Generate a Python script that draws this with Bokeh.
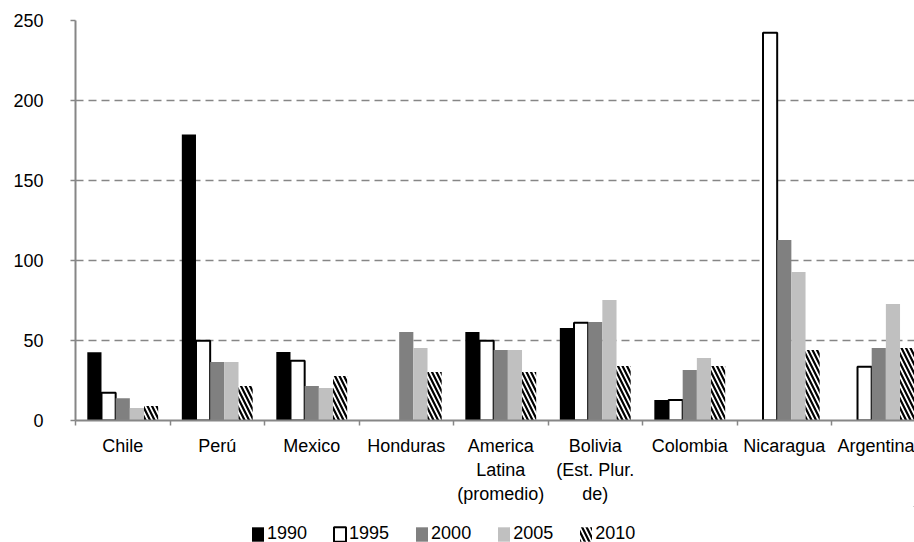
from bokeh.plotting import figure
from bokeh.layouts import column
from bokeh.models import Range1d, FixedTicker, Legend, LegendItem
from bokeh.embed import file_html
from bokeh.resources import INLINE

NaN = float("nan")

countries = ["Chile", "Perú", "Mexico", "Honduras", "America\nLatina\n(promedio)",
             "Bolivia\n(Est. Plur.\nde)", "Colombia", "Nicaragua", "Argentina"]
years = ["1990", "1995", "2000", "2005", "2010"]

v1990 = [42.6, 178.8, 42.8, NaN, 55.3, 57.8, 12.8, NaN, NaN]
v1995 = [17.4, 49.9, 37.4, NaN, 49.9, 61.1, 12.8, 242.4, 33.6]
v2000 = [13.9, 36.6, 21.6, 55.3, 44.0, 61.6, 31.6, 112.8, 45.3]
v2005 = [7.8, 36.6, 20.3, 45.3, 44.0, 75.3, 39.1, 92.8, 72.8]
v2010 = [9.1, 21.6, 27.8, 30.3, 30.3, 34.1, 34.1, 44.0, 45.3]

y_ticks = [0, 50, 100, 150, 200, 250]

series = [v1990, v1995, v2000, v2005, v2010]

FONT = "Liberation Sans"
FS = "18px"
AX = "#868686"

p = figure(width=914, height=506, x_range=Range1d(0, 8.878), y_range=Range1d(0, 250),
           output_backend="svg", toolbar_location=None,
           min_border_left=75, min_border_top=20, min_border_right=0, min_border_bottom=85)
p.outline_line_color = None
p.xgrid.visible = False
p.ygrid.grid_line_color = AX
p.ygrid.grid_line_width = 1.6
p.ygrid.grid_line_dash = "8 5"
p.ygrid.ticker = FixedTicker(ticks=y_ticks)

n = len(countries)
bw = 0.15
offsets = [-0.3, -0.15, 0.0, 0.15, 0.3]
styles = [
    dict(fill_color="black", line_color=None),
    dict(fill_color="white", line_color="black", line_width=2),
    dict(fill_color="#808080", line_color=None),
    dict(fill_color="#c0c0c0", line_color=None),
    dict(fill_color="white", line_color=None, hatch_pattern="left_diagonal_line",
         hatch_color="black", hatch_weight=2.2, hatch_scale=9),
]

for vals, off, st in zip(series, offsets, styles):
    xs = [i + 0.5 + off for i in range(n)]
    p.vbar(x=xs, top=vals, bottom=0, width=bw, **st)

# y axis
yax = p.yaxis[0]
yax.ticker = FixedTicker(ticks=y_ticks)
yax.axis_line_color = AX
yax.axis_line_width = 2
yax.major_tick_line_color = AX
yax.major_tick_line_width = 1.5
yax.major_tick_out = 5
yax.major_tick_in = 0
yax.minor_tick_line_color = None
yax.major_label_standoff = 27
yax.major_label_text_font = FONT
yax.major_label_text_font_size = FS
yax.major_label_text_color = "black"

# x axis
xax = p.xaxis[0]
xax.ticker = FixedTicker(ticks=[i + 0.5 for i in range(n)], minor_ticks=list(range(n + 1)))
xax.axis_line_color = AX
xax.axis_line_width = 2
xax.major_tick_line_color = None
xax.major_tick_out = 0
xax.major_tick_in = 0
xax.minor_tick_line_color = AX
xax.minor_tick_line_width = 1.5
xax.minor_tick_out = 5
xax.minor_tick_in = 0
xax.major_label_overrides = {i + 0.5: c for i, c in enumerate(countries)}
xax.major_label_standoff = 10
xax.major_label_text_font = FONT
xax.major_label_text_font_size = FS
xax.major_label_text_color = "black"
xax.major_label_text_align = "center"

# legend strip (proxy renderers lie outside the visible range; only their swatches show)
lg = figure(width=914, height=36, x_range=Range1d(0, 1), y_range=Range1d(0, 1),
            output_backend="svg", toolbar_location=None,
            min_border_left=0, min_border_right=0, min_border_top=0, min_border_bottom=0)
lg.axis.visible = False
lg.grid.visible = False
lg.outline_line_color = None
lrs = [lg.vbar(x=[5], top=[2], bottom=1.5, width=bw, **st) for st in styles]

legend = Legend(items=[LegendItem(label=y, renderers=[r]) for y, r in zip(years, lrs)],
                orientation="horizontal", location=(175, -2),
                glyph_width=15, glyph_height=18, label_standoff=2, spacing=25,
                padding=0, margin=0, border_line_color=None, background_fill_alpha=0,
                label_text_font=FONT, label_text_font_size=FS, label_text_color="black")
lg.add_layout(legend)

layout = column(p, lg, spacing=0)
open("out.html", "w").write(file_html(layout, INLINE))
